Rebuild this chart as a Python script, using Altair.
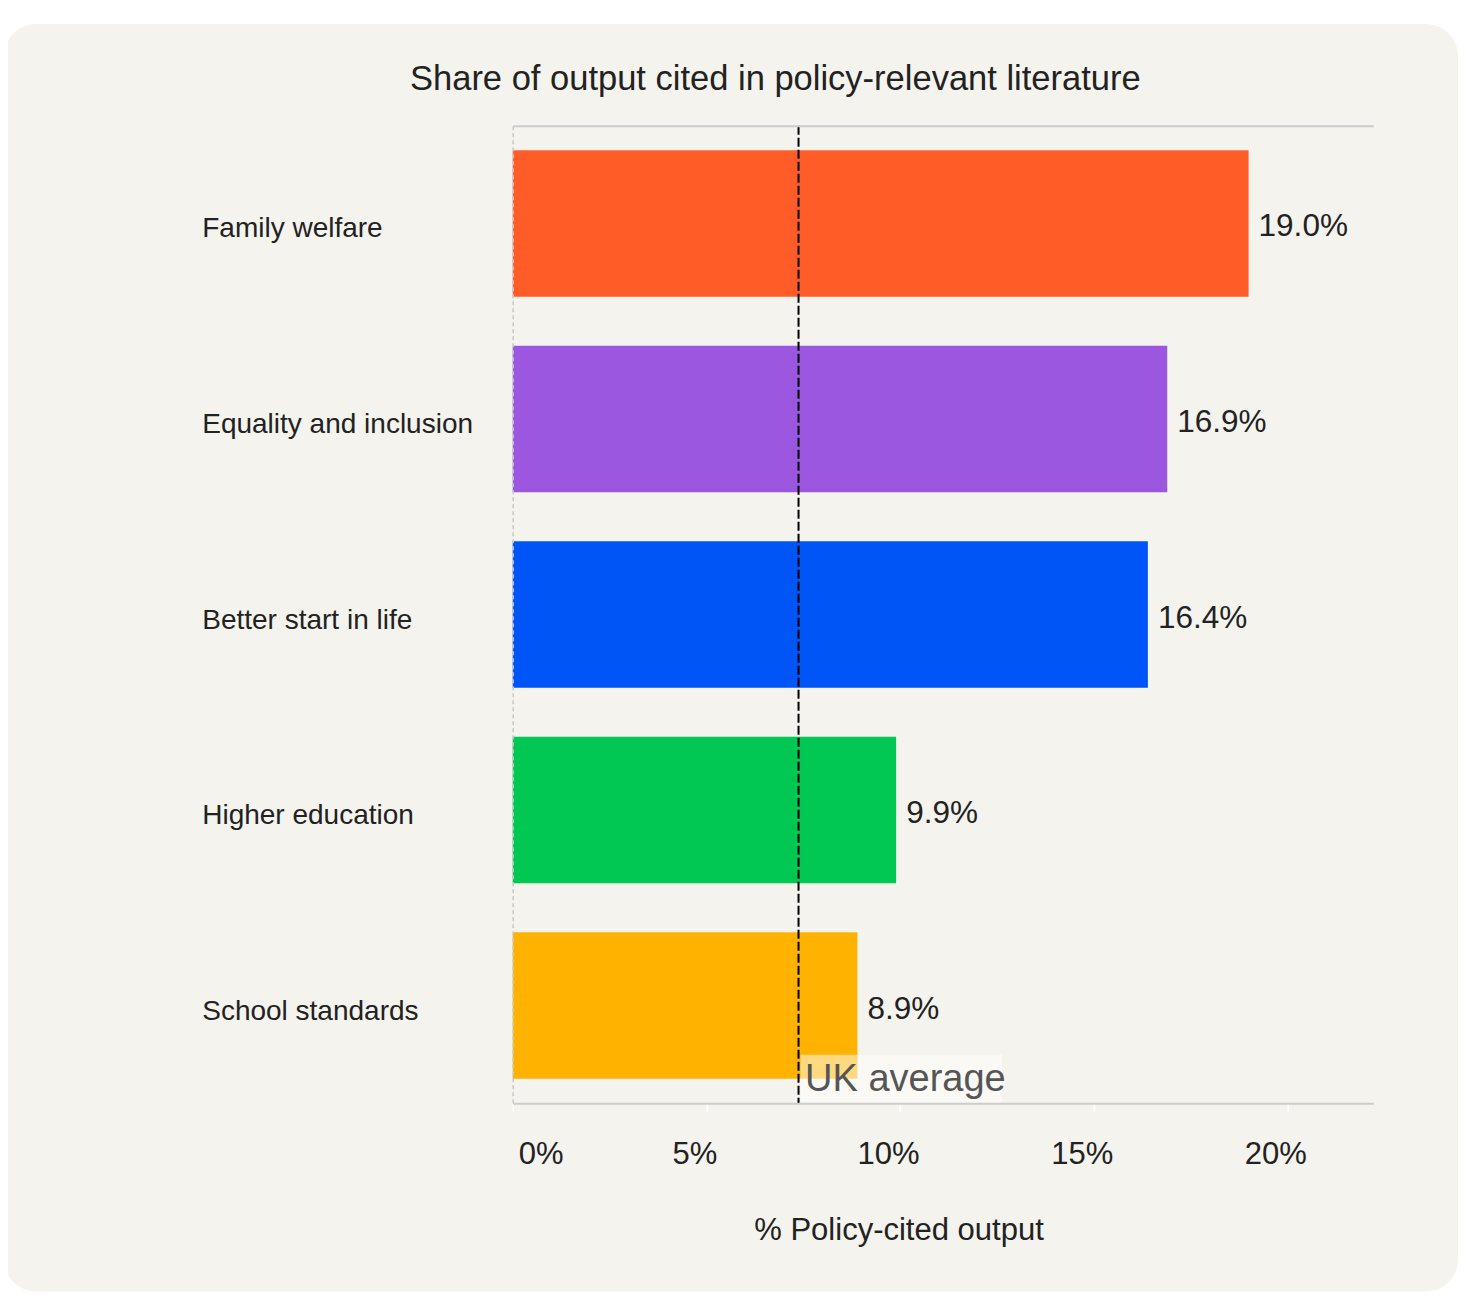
import altair as alt
import pandas as pd

# ---- data ----
categories = ["Family welfare", "Equality and inclusion", "Better start in life",
              "Higher education", "School standards"]
values = [19.0, 16.9, 16.4, 9.9, 8.9]
value_labels = ["19.0%", "16.9%", "16.4%", "9.9%", "8.9%"]
colors = ["#FF5C28", "#9B57E0", "#0055F6", "#00C853", "#FFB300"]
uk_average = [7.38]
uk_label = ["UK average"]
x_ticks = [0, 5, 10, 15, 20]
x_max = 22.22
chart_title = ["Share of output cited in policy-relevant literature"]

FONT = "Liberation Sans"
TXT = "#222222"
W, H = 860.6, 977.6
PAD_L, PAD_T = 504.7, 117.7
SVG_W, SVG_H = 1450, 1284

df = pd.DataFrame({"category": categories, "value": values, "label": value_labels})
avg_df = pd.DataFrame({"avg": uk_average, "text": uk_label})
title_df = pd.DataFrame({"title": chart_title})

x_scale = alt.Scale(domain=[0, x_max], nice=False, zero=True)
y_scale = alt.Scale(paddingInner=0.25, paddingOuter=0.125)

y_axis = alt.Axis(
    title=None, labelFont=FONT, labelFontSize=28, labelColor=TXT,
    labelAlign="left", labelPadding=311, labelLimit=400, labelOffset=6,
    ticks=False, tickSize=0, domainColor="#c8c8c8", domainWidth=1.5,
    domainDash=[4, 3], grid=False, zindex=1)

card = alt.Chart(title_df).mark_rect(color="#f4f3ed", cornerRadius=32).encode(
    x=alt.value(-PAD_L - 4), x2=alt.value(SVG_W - PAD_L),
    y=alt.value(24 - 8 - PAD_T), y2=alt.value(SVG_H - PAD_T - 0.5),
)

title = alt.Chart(title_df).mark_text(
    align="left", baseline="alphabetic", font=FONT, fontSize=34.5, color=TXT
).encode(
    x=alt.value(410 - 8 - PAD_L), y=alt.value(90 - 8 - PAD_T), text="title:N"
)

bars = alt.Chart(df).mark_bar().encode(
    x=alt.X("value:Q", scale=x_scale, axis=alt.Axis(
        orient="bottom", values=x_ticks, labelExpr="datum.value + '%'",
        labelFont=FONT, labelFontSize=31, labelColor=TXT, labelPadding=28,
        labelFlush=False,
        labelOffset={"condition": {"test": "datum.value === 0", "value": 28}, "value": -12},
        tickColor="#ffffff", tickSize=8, tickWidth=1.5,
        domainColor="#cccccc", domainWidth=2, grid=False,
        title="% Policy-cited output", titleFont=FONT, titleFontSize=31,
        titleFontWeight="normal", titleColor=TXT, titleX=385.8, titleY=136.7,
        titleAlign="center", titleBaseline="alphabetic", zindex=1)),
    y=alt.Y("category:N", sort=categories, scale=y_scale, axis=y_axis),
    color=alt.Color("category:N", scale=alt.Scale(domain=categories, range=colors), legend=None),
)

avg_box = alt.Chart(avg_df).mark_rect(color="white", opacity=0.5, xOffset=2, x2Offset=203.5).encode(
    x=alt.X("avg:Q", scale=x_scale, axis=None),
    x2=alt.X2("avg"),
    y=alt.value(929), y2=alt.value(H),
)

avg_rule = alt.Chart(avg_df).mark_rule(color="black", strokeWidth=2, strokeDash=[9, 3]).encode(
    x=alt.X("avg:Q", scale=x_scale, axis=alt.Axis(
        orient="top", labels=False, ticks=False, grid=False, title=None,
        domainColor="#cccccc", domainWidth=2, zindex=1)),
)

avg_text = alt.Chart(avg_df).mark_text(
    align="left", baseline="alphabetic", dx=6.5, font=FONT, fontSize=38, color="#555555"
).encode(
    x=alt.X("avg:Q", scale=x_scale, axis=None),
    y=alt.value(965),
    text="text:N",
)

val_text = alt.Chart(df).mark_text(
    align="left", baseline="middle", dx=10, dy=4, font=FONT, fontSize=31.5, color=TXT
).encode(
    x=alt.X("value:Q", scale=x_scale, axis=None),
    y=alt.Y("category:N", sort=categories, scale=y_scale, axis=y_axis),
    text="label:N",
)

chart = alt.layer(card, title, bars, avg_box, avg_rule, avg_text, val_text).resolve_axis(
    x="independent"
).properties(
    width=W, height=H,
    padding={"left": PAD_L, "top": PAD_T, "right": SVG_W - PAD_L - W, "bottom": SVG_H - PAD_T - H},
    autosize=alt.AutoSizeParams(type="none"),
).configure_view(stroke="transparent").configure(background="white")

chart.save("out.html", embed_options={"renderer": "svg", "actions": False})
